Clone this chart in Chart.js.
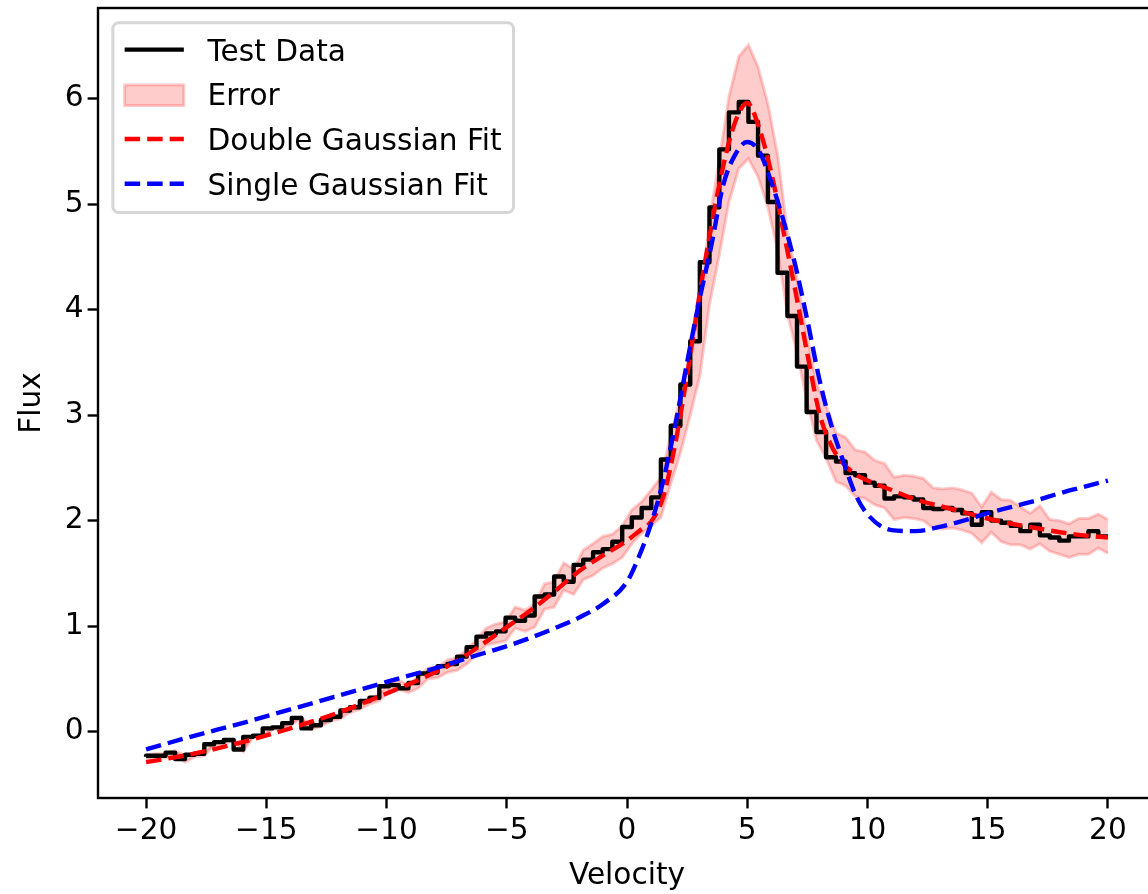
<!DOCTYPE html>
<html>
<head>
<meta charset="utf-8">
<title>Flux vs Velocity</title>
<script src="https://cdn.jsdelivr.net/npm/chart.js@4.4.0/dist/chart.umd.min.js"></script>
<style>
  html, body { margin: 0; padding: 0; background: #fff; overflow: hidden; }
  #fluxChart { display: block; width: 1160px; height: 894px; }
</style>
</head>
<body>
<canvas id="fluxChart" width="1160" height="894"></canvas>
<script>
// velocity grid of the test spectrum (100 bins from -20 to 20)
const velocity = [
  -20.00, -19.60, -19.19, -18.79, -18.38, -17.98, -17.58, -17.17, -16.77, -16.36,
  -15.96, -15.56, -15.15, -14.75, -14.34, -13.94, -13.54, -13.13, -12.73, -12.32,
  -11.92, -11.52, -11.11, -10.71, -10.30, -9.90, -9.49, -9.09, -8.69, -8.28,
  -7.88, -7.47, -7.07, -6.67, -6.26, -5.86, -5.45, -5.05, -4.65, -4.24,
  -3.84, -3.43, -3.03, -2.63, -2.22, -1.82, -1.41, -1.01, -0.61, -0.20,
  0.20, 0.61, 1.01, 1.41, 1.82, 2.22, 2.63, 3.03, 3.43, 3.84,
  4.24, 4.65, 5.05, 5.45, 5.86, 6.26, 6.67, 7.07, 7.47, 7.88,
  8.28, 8.69, 9.09, 9.49, 9.90, 10.30, 10.71, 11.11, 11.52, 11.92,
  12.32, 12.73, 13.13, 13.54, 13.94, 14.34, 14.75, 15.15, 15.56, 15.96,
  16.36, 16.77, 17.17, 17.58, 17.98, 18.38, 18.79, 19.19, 19.60, 20.00
];

// measured flux per bin
const testData = [
  -0.24, -0.23, -0.23, -0.20, -0.26, -0.22, -0.21, -0.12, -0.10, -0.08,
  -0.17, -0.05, -0.04, 0.03, 0.04, 0.08, 0.13, 0.03, 0.06, 0.11,
  0.14, 0.20, 0.23, 0.29, 0.32, 0.43, 0.44, 0.41, 0.46, 0.55,
  0.56, 0.62, 0.64, 0.71, 0.80, 0.90, 0.93, 0.95, 1.08, 1.05,
  1.10, 1.28, 1.30, 1.47, 1.42, 1.58, 1.63, 1.70, 1.73, 1.80,
  1.94, 2.03, 2.12, 2.22, 2.58, 2.90, 3.29, 3.70, 4.45, 4.97,
  5.52, 5.87, 5.97, 5.78, 5.46, 5.02, 4.35, 3.94, 3.46, 3.03,
  2.84, 2.60, 2.56, 2.45, 2.43, 2.36, 2.33, 2.21, 2.23, 2.22,
  2.20, 2.12, 2.11, 2.12, 2.10, 2.07, 1.96, 2.08, 2.00, 1.98,
  1.95, 1.90, 1.96, 1.86, 1.84, 1.81, 1.85, 1.85, 1.90, 1.85
];

// flux uncertainty per bin
const errorBar = [
  0.02, 0.02, 0.02, 0.02, 0.03, 0.02, 0.02, 0.01, 0.01, 0.01,
  0.02, 0.01, 0.01, 0.01, 0.01, 0.01, 0.01, 0.01, 0.01, 0.01,
  0.02, 0.02, 0.02, 0.03, 0.03, 0.04, 0.04, 0.04, 0.05, 0.05,
  0.05, 0.06, 0.06, 0.07, 0.07, 0.08, 0.09, 0.09, 0.10, 0.10,
  0.11, 0.12, 0.12, 0.13, 0.12, 0.14, 0.15, 0.15, 0.14, 0.15,
  0.16, 0.15, 0.17, 0.19, 0.23, 0.26, 0.29, 0.33, 0.40, 0.45,
  0.50, 0.53, 0.54, 0.52, 0.49, 0.45, 0.39, 0.35, 0.31, 0.27,
  0.25, 0.23, 0.23, 0.22, 0.22, 0.21, 0.21, 0.20, 0.20, 0.20,
  0.20, 0.19, 0.19, 0.19, 0.19, 0.19, 0.17, 0.19, 0.20, 0.21,
  0.18, 0.17, 0.18, 0.15, 0.16, 0.16, 0.17, 0.17, 0.16, 0.16
];

// fitted models
const fitVelocity = [
  -20, -18, -16, -14, -12, -10, -8, -7, -6, -5, -4, -3, -2, -1, 0, 0.5, 1, 1.5, 2, 2.5,
  3, 3.5, 4, 4.5, 5, 5.5, 6, 6.5, 7, 7.5, 8, 8.5, 9, 9.5, 10, 11, 12, 13, 14, 15,
  16, 17, 18, 19, 20
];
const doubleFit = [
  -0.29, -0.21, -0.10, 0.03, 0.18, 0.36, 0.56, 0.68, 0.83, 0.99, 1.15, 1.33, 1.52, 1.67, 1.81, 1.90, 1.99, 2.22, 2.72, 3.38,
  4.12, 4.78, 5.36, 5.78, 5.96, 5.72, 5.30, 4.75, 4.18, 3.58, 3.02, 2.71, 2.54, 2.44, 2.38, 2.29, 2.20, 2.14, 2.08, 2.02,
  1.97, 1.93, 1.89, 1.86, 1.84
];
const singleFit = [
  -0.17, -0.04, 0.08, 0.21, 0.34, 0.47, 0.60, 0.67, 0.74, 0.81, 0.89, 0.98, 1.08, 1.21, 1.42, 1.66, 1.97, 2.37, 2.90, 3.50,
  4.08, 4.60, 5.18, 5.47, 5.59, 5.50, 5.21, 4.85, 4.42, 3.90, 3.34, 2.90, 2.56, 2.25, 2.06, 1.91, 1.90, 1.94, 2.00, 2.07,
  2.13, 2.19, 2.26, 2.32, 2.38
];

const xTicks = [-20, -15, -10, -5, 0, 5, 10, 15, 20];
const yTicks = [0, 1, 2, 3, 4, 5, 6];
const legendLabels = ['Test Data', 'Error', 'Double Gaussian Fit', 'Single Gaussian Fit'];

const FONT_FAMILY = "'DejaVu Sans', sans-serif";
const FS = 29.6;          // 10pt text at the figure dpi
const LW = 4.4;           // 1.5pt lines
const DASH = [15.5, 7];

function toPoints(xs, ys) {
  return xs.map((x, i) => ({ x: x, y: ys[i] }));
}

function roundRect(ctx, x, y, w, h, r) {
  ctx.beginPath();
  ctx.moveTo(x + r, y);
  ctx.arcTo(x + w, y, x + w, y + h, r);
  ctx.arcTo(x + w, y + h, x, y + h, r);
  ctx.arcTo(x, y + h, x, y, r);
  ctx.arcTo(x, y, x + w, y, r);
  ctx.closePath();
}

// full box around the axes + matplotlib style legend in the upper left
const frameAndLegend = {
  id: 'frameAndLegend',
  afterDatasetsDraw(chart) {
    const { ctx, chartArea: a } = chart;
    ctx.save();
    ctx.strokeStyle = '#000';
    ctx.lineWidth = 2.4;
    ctx.setLineDash([]);
    ctx.strokeRect(a.left, a.top, a.right - a.left, a.bottom - a.top);

    ctx.font = FS + 'px ' + FONT_FAMILY;
    const pad = 0.4 * FS, handleLen = 2 * FS, textPad = 0.8 * FS;
    const rowH = 29.9, gap = 0.5 * FS;
    const textW = Math.max(...legendLabels.map(l => ctx.measureText(l).width));
    const x0 = a.left + 0.5 * FS, y0 = a.top + 0.5 * FS;
    const w = pad * 2 + handleLen + textPad + textW;
    const h = pad * 2 + rowH * legendLabels.length + gap * (legendLabels.length - 1) + 2;
    roundRect(ctx, x0, y0, w, h, 0.2 * FS);
    ctx.fillStyle = 'rgba(255,255,255,0.8)';
    ctx.fill();
    ctx.strokeStyle = 'rgba(204,204,204,0.8)';
    ctx.lineWidth = 3;
    ctx.stroke();

    legendLabels.forEach((label, i) => {
      const ds = chart.data.datasets.find(d => d.label === label);
      const cy = y0 + pad + rowH / 2 + i * (rowH + gap);
      const hx = x0 + pad;
      if (ds.fill) {
        ctx.setLineDash([]);
        ctx.fillStyle = ds.backgroundColor;
        ctx.fillRect(hx, cy - 10.4 + 1, handleLen, 20.7);
        ctx.strokeStyle = ds.borderColor;
        ctx.lineWidth = 3;
        ctx.strokeRect(hx, cy - 10.4 + 1, handleLen, 20.7);
      } else {
        ctx.setLineDash(ds.borderDash || []);
        ctx.strokeStyle = ds.borderColor;
        ctx.lineWidth = LW;
        ctx.lineCap = 'butt';
        ctx.beginPath();
        ctx.moveTo(hx, cy);
        ctx.lineTo(hx + handleLen, cy);
        ctx.stroke();
      }
      ctx.setLineDash([]);
      ctx.fillStyle = '#000';
      ctx.textBaseline = 'alphabetic';
      ctx.textAlign = 'left';
      ctx.fillText(label, hx + handleLen + textPad, cy + 11);
    });
    ctx.restore();
  }
};

const upperBand = toPoints(velocity, testData.map((v, i) => v + errorBar[i]));
const lowerBand = toPoints(velocity, testData.map((v, i) => v - errorBar[i]));

const tickFont = { family: FONT_FAMILY, size: FS, lineHeight: 1.2 };

new Chart(document.getElementById('fluxChart'), {
  type: 'line',
  data: {
    datasets: [{
      label: 'Single Gaussian Fit',
      data: toPoints(fitVelocity, singleFit),
      borderColor: '#0000ff',
      borderDash: DASH,
      borderWidth: LW,
      borderCapStyle: 'butt',
      pointRadius: 0,
      cubicInterpolationMode: 'monotone',
      fill: false,
      order: 0
    }, {
      label: 'Double Gaussian Fit',
      data: toPoints(fitVelocity, doubleFit),
      borderColor: '#ff0000',
      borderDash: DASH,
      borderWidth: LW,
      borderCapStyle: 'butt',
      pointRadius: 0,
      cubicInterpolationMode: 'monotone',
      fill: false,
      order: 1
    }, {
      label: 'Test Data',
      data: toPoints(velocity, testData),
      borderColor: '#000000',
      borderWidth: LW,
      borderJoinStyle: 'round',
      stepped: 'after',
      pointRadius: 0,
      fill: false,
      order: 2
    }, {
      label: 'Error',
      data: upperBand,
      borderColor: 'rgba(255,0,0,0.2)',
      backgroundColor: 'rgba(255,0,0,0.2)',
      borderWidth: 3,
      pointRadius: 0,
      tension: 0,
      fill: '+1',
      order: 3
    }, {
      label: 'Error lower',
      data: lowerBand,
      borderColor: 'rgba(255,0,0,0.2)',
      borderWidth: 3,
      pointRadius: 0,
      tension: 0,
      fill: false,
      order: 4
    }]
  },
  options: {
    responsive: false,
    animation: false,
    events: [],
    layout: { padding: { left: 0, top: 8, right: 4, bottom: 0 }, autoPadding: false },
    plugins: {
      legend: { display: false },
      tooltip: { enabled: false }
    },
    scales: {
      x: {
        type: 'linear',
        min: -22,
        max: 22,
        afterFit: (scale) => {
          scale.height = 96;
          scale.paddingLeft = 0;
          scale.paddingRight = 0;
        },
        afterBuildTicks: (axis) => { axis.ticks = xTicks.map(v => ({ value: v })); },
        border: { display: false },
        grid: { drawOnChartArea: false, drawTicks: true, tickLength: 10.4, tickWidth: 2.4, tickColor: '#000', color: '#000' },
        ticks: {
          color: '#000',
          font: tickFont,
          padding: 5,
          maxRotation: 0,
          autoSkip: false,
          callback: (v) => (v < 0 ? '\u2212' + Math.abs(v) : String(v))
        },
        title: {
          display: true,
          text: 'Velocity',
          color: '#000',
          font: tickFont,
          padding: { top: 0, bottom: 0 }
        }
      },
      y: {
        type: 'linear',
        min: -0.63,
        max: 6.86,
        afterFit: (scale) => {
          scale.width = 98;
          scale.paddingTop = 0;
          scale.paddingBottom = 0;
        },
        afterBuildTicks: (axis) => { axis.ticks = yTicks.map(v => ({ value: v })); },
        border: { display: false },
        grid: { drawOnChartArea: false, drawTicks: true, tickLength: 10.4, tickWidth: 2.4, tickColor: '#000', color: '#000' },
        ticks: {
          color: '#000',
          font: tickFont,
          padding: 4,
          autoSkip: false,
          callback: (v) => String(v)
        },
        title: {
          display: true,
          text: 'Flux',
          color: '#000',
          font: tickFont,
          padding: { top: 15, bottom: 0 }
        }
      }
    }
  },
  plugins: [frameAndLegend]
});
</script>
</body>
</html>
